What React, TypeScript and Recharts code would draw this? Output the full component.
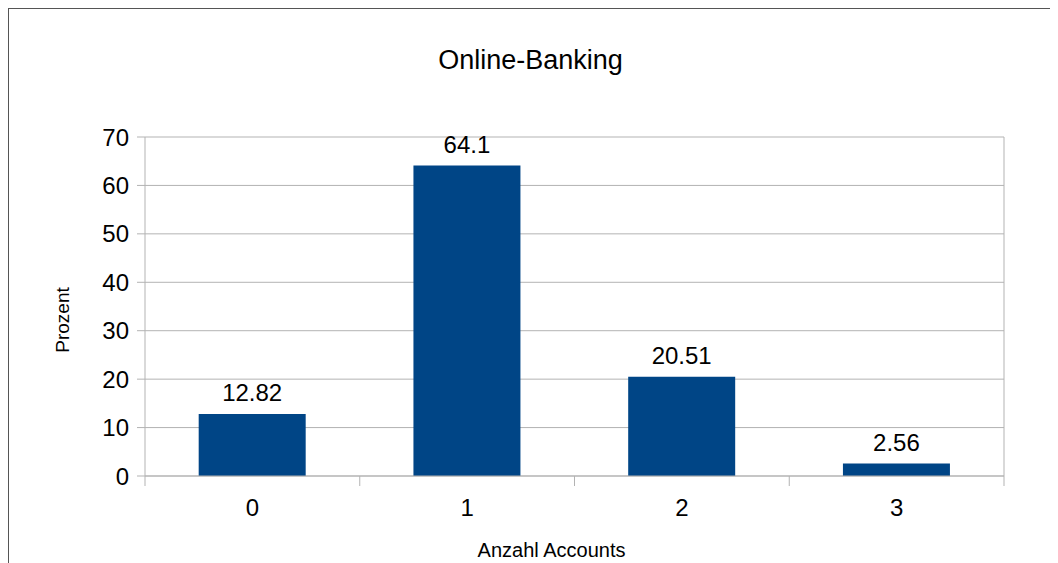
import { BarChart, Bar, XAxis, YAxis, CartesianGrid, LabelList } from 'recharts'

const categories = ['0', '1', '2', '3']
const percentValues = [12.82, 64.1, 20.51, 2.56]
const yTicks = [0, 10, 20, 30, 40, 50, 60, 70]

const chartData = categories.map((c, i) => ({ accounts: c, percent: percentValues[i] }))

const FONT = '"Liberation Sans", Arial, sans-serif'
const GRID = '#b3b3b3'

// category label plus the little boundary ticks below the axis, like LibreOffice draws them
function CategoryTick(props: any) {
  const { x, y, payload, index } = props
  const half = payload.offset ?? 0
  return (
    <g>
      {index === 0 && <line x1={x - half} x2={x - half} y1={y - 10} y2={y} stroke={GRID} />}
      <line x1={x + half} x2={x + half} y1={y - 10} y2={y} stroke={GRID} />
      <text x={x} y={y + 30} textAnchor="middle" fontSize={24} fill="#000" fontFamily={FONT}>
        {payload.value}
      </text>
    </g>
  )
}

export default function App() {
  return (
    <div
      style={{
        position: 'relative',
        width: 1049,
        height: 554,
        borderLeft: '1px solid #555',
        borderTop: '1px solid #555',
        fontFamily: FONT,
        background: '#fff',
      }}
    >
      <div style={{ position: 'absolute', left: 0, width: 1043, top: 36, textAlign: 'center', fontSize: 27, color: '#000' }}>
        Online-Banking
      </div>
      <div style={{ position: 'absolute', left: 54, top: 311, width: 0, height: 0 }}>
        <div style={{ position: 'absolute', transform: 'translate(-50%, -50%) rotate(-90deg)', fontSize: 19, color: '#000', whiteSpace: 'nowrap' }}>
          Prozent
        </div>
      </div>
      <div style={{ position: 'absolute', left: 0, width: 1085, top: 530, textAlign: 'center', fontSize: 20, color: '#000' }}>
        Anzahl Accounts
      </div>
      <BarChart
        width={1049}
        height={554}
        data={chartData}
        margin={{ top: 128, right: 54, left: 0, bottom: 47 }}
        barCategoryGap="25%"
      >
        <CartesianGrid
          stroke={GRID}
          verticalCoordinatesGenerator={({ offset }: any) => [offset.left + offset.width]}
        />
        <XAxis
          dataKey="accounts"
          height={40}
          axisLine={{ stroke: GRID }}
          tickLine={false}
          tickSize={10}
          tickMargin={0}
          tick={<CategoryTick />}
          interval={0}
        />
        <YAxis
          domain={[0, 70]}
          ticks={yTicks}
          width={136}
          axisLine={{ stroke: GRID }}
          tickLine={{ stroke: GRID }}
          tickSize={8}
          tickMargin={8}
          tick={{ fontSize: 24, fill: '#000', fontFamily: FONT }}
        />
        <Bar dataKey="percent" fill="#004586" isAnimationActive={false}>
          <LabelList dataKey="percent" position="top" offset={13} fontSize={24} fill="#000" fontFamily={FONT} />
        </Bar>
      </BarChart>
    </div>
  )
}
